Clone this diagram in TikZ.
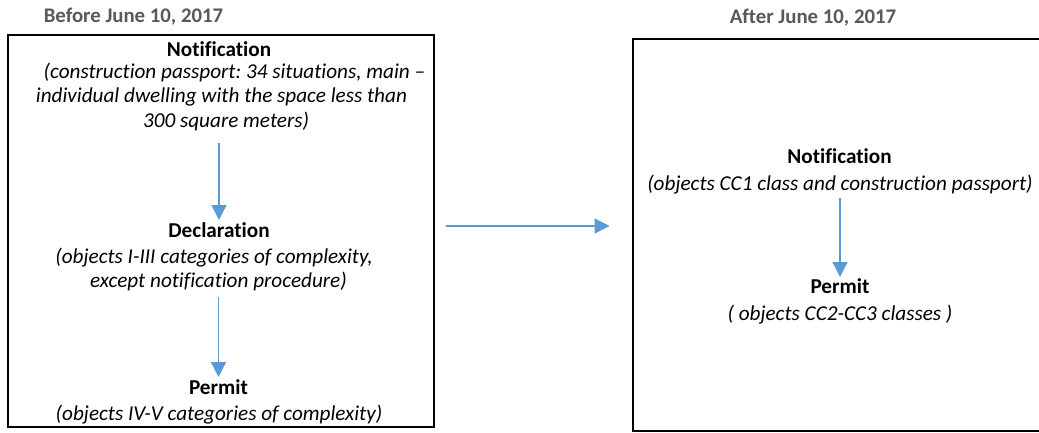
\documentclass[tikz,border=0pt]{standalone}
\usepackage{fontspec}
\setmainfont{Carlito}[Ligatures=NoCommon]
\usetikzlibrary{arrows.meta}
\frenchspacing
\definecolor{arrblue}{HTML}{5B9BD5}
\definecolor{titlegray}{HTML}{595959}
\tikzset{
  box/.style={draw=black, line width=2pt, inner sep=0pt, fill=none},
  headtxt/.style={font=\bfseries\fontsize{21.2}{24}\selectfont, inner sep=0pt, anchor=base},
  desctxt/.style={font=\itshape\fontsize{21.2}{24}\selectfont, inner sep=0pt, anchor=base},
  titletxt/.style={font=\bfseries\fontsize{20.8}{24}\selectfont, text=titlegray, inner sep=0pt, anchor=base},
  arr/.style={draw=arrblue, line width=1.3pt, -{Triangle[length=15pt,width=15pt]}, arrblue}
}
\begin{document}
\begin{tikzpicture}[x=1pt,y=-1pt]
\useasboundingbox (0,0) rectangle (1039,432);
\clip (0,0) rectangle (1039,432);
\fill[white] (0,0) rectangle (1039,432);
% titles
\node[titletxt] (t1) at (133.5,22.7) {Before June 10, 2017};
\node[titletxt] (t2) at (813,23.3) {After June 10, 2017};
% boxes
\node[box, minimum width=426.5pt, minimum height=392pt] (lbox) at (220.75,231) {};
\node[box, minimum width=413pt, minimum height=392pt] (rbox) at (839,235) {};
% left content
\node[headtxt] (n0) at (219,56) {Notification};
\node[desctxt] (n1) at (234.5,78) {(construction passport: 34 situations, main –};
\node[desctxt] (n2) at (221.5,102.7) {individual dwelling with the space less than};
\node[desctxt] (n3) at (226,127) {300 square meters)};
\node[headtxt] (d0) at (219,237.7) {Declaration};
\node[desctxt] (d1) at (214,263) {(objects I-III categories of complexity,};
\node[desctxt] (d2) at (218.5,287) {except notification procedure)};
\node[headtxt] (p0) at (218.5,394) {Permit};
\node[desctxt] (p1) at (219,420) {(objects IV-V categories of complexity)};
% right content
\node[headtxt] (rn0) at (839.5,163) {Notification};
\node[desctxt] (rn1) at (840,190) {(objects CC1 class and construction passport)};
\node[headtxt] (rp0) at (840,293) {Permit};
\node[desctxt] (rp1) at (840,320) {( objects CC2-CC3 classes )};
% arrows
\draw[arr] ([yshift=-16pt]d0.base |- n3.base) -- ([yshift=17.7pt]d0.base);
\draw[arr] ([yshift=-10pt]p0.base |- d2.base) -- ([yshift=17pt]p0.base);
\draw[arr] ([yshift=-8pt]rn1.base) -- ([yshift=16pt]rp0.base);
\draw[arr] ([shift={(11pt,5pt)}]lbox.east) -- ([shift={(-22pt,5pt)}]lbox.east -| rbox.west);
\end{tikzpicture}
\end{document}
